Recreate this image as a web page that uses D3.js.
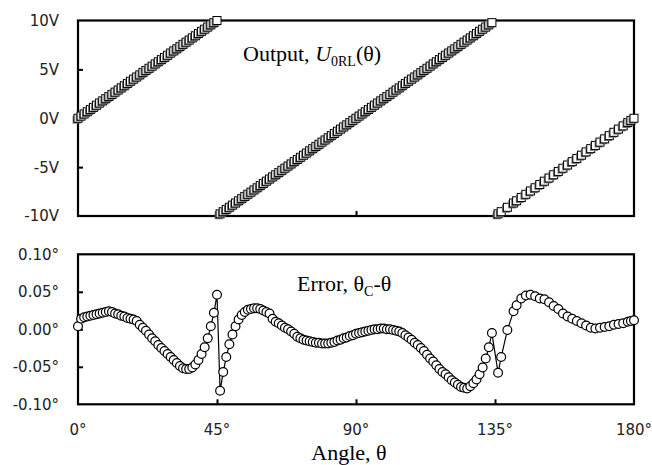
<!DOCTYPE html>
<html><head><meta charset="utf-8">
<script src="https://cdn.jsdelivr.net/npm/d3@7"></script>
<style>html,body{margin:0;padding:0;background:#fff;}svg{display:block;}</style>
</head><body>
<svg id="c" width="652" height="465"></svg>
<script>
// angle samples (degrees)
const theta = [0,1,2,3,4,5,6,7,8,9,10,11,12,13,14,15,16,17,18,19,20,21,22,23,24,25,26,27,28,29,30,31,32,33,34,35,36,37,38,39,40,41,42,43,44,45,
46,47,48,49,50,51,52,53,54,55,56,57,58,59,60,61,62,63,64,65,66,67,68,69,70,71,72,73,74,75,76,77,78,79,80,81,82,83,84,85,86,87,88,89,90,
91,92,93,94,95,96,97,98,99,100,101,102,103,104,105,106,107,108,109,110,111,112,113,114,115,116,117,118,119,120,121,122,123,124,125,126,127,128,129,130,131,132,133,134,
136,137,139,141,142,143.5,145,146.5,148,149.5,151,152.5,154,155.5,157,158.5,160,161.5,163,164.5,166,167.5,169,170.5,172,173.5,175,176.5,178,179,180];
// output voltage U0RL (V)
const output = [0,0.22,0.44,0.67,0.89,1.11,1.33,1.56,1.78,2.00,2.22,2.44,2.67,2.89,3.11,3.33,3.56,3.78,4.00,4.22,4.44,4.67,4.89,5.11,5.33,5.56,5.78,6.00,6.22,6.44,6.67,6.89,7.11,7.33,7.56,7.78,8.00,8.22,8.44,8.67,8.89,9.11,9.33,9.56,9.78,10.00,
-9.78,-9.56,-9.33,-9.11,-8.89,-8.67,-8.44,-8.22,-8.00,-7.78,-7.56,-7.33,-7.11,-6.89,-6.67,-6.44,-6.22,-6.00,-5.78,-5.56,-5.33,-5.11,-4.89,-4.67,-4.44,-4.22,-4.00,-3.78,-3.56,-3.33,-3.11,-2.89,-2.67,-2.44,-2.22,-2.00,-1.78,-1.56,-1.33,-1.11,-0.89,-0.67,-0.44,-0.22,0.00,
0.22,0.44,0.67,0.89,1.11,1.33,1.56,1.78,2.00,2.22,2.44,2.67,2.89,3.11,3.33,3.56,3.78,4.00,4.22,4.44,4.67,4.89,5.11,5.33,5.56,5.78,6.00,6.22,6.44,6.67,6.89,7.11,7.33,7.56,7.78,8.00,8.22,8.44,8.67,8.89,9.11,9.33,9.56,9.78,
-9.78,-9.56,-9.11,-8.67,-8.44,-8.11,-7.78,-7.44,-7.11,-6.78,-6.44,-6.11,-5.78,-5.44,-5.11,-4.78,-4.44,-4.11,-3.78,-3.44,-3.11,-2.78,-2.44,-2.11,-1.78,-1.44,-1.11,-0.78,-0.44,-0.22,0.00];
// angle error thetaC - theta (degrees)
const error = [0.004,0.014,0.016,0.017,0.018,0.019,0.020,0.021,0.022,0.023,0.024,0.023,0.021,0.020,0.018,0.017,0.015,0.014,0.013,0.011,0.006,0.002,-0.002,-0.007,-0.012,-0.016,-0.021,-0.025,-0.029,-0.033,-0.037,-0.041,-0.045,-0.049,-0.052,-0.053,-0.053,-0.051,-0.047,-0.041,-0.033,-0.024,-0.012,0.004,0.022,0.046,
-0.082,-0.057,-0.037,-0.020,-0.007,0.004,0.013,0.019,0.023,0.026,0.027,0.028,0.028,0.027,0.025,0.023,0.021,0.014,0.010,0.008,0.005,0.002,0.000,-0.003,-0.006,-0.010,-0.012,-0.014,-0.015,-0.016,-0.017,-0.018,-0.018,-0.019,-0.019,-0.019,-0.018,-0.017,-0.015,-0.014,-0.012,-0.011,-0.009,-0.008,-0.006,
-0.005,-0.004,-0.003,-0.002,-0.001,0.000,0.000,0.001,0.001,0.000,0.000,-0.001,-0.002,-0.003,-0.005,-0.008,-0.011,-0.014,-0.018,-0.021,-0.025,-0.029,-0.034,-0.039,-0.043,-0.048,-0.053,-0.057,-0.060,-0.064,-0.068,-0.071,-0.074,-0.077,-0.078,-0.079,-0.076,-0.072,-0.067,-0.060,-0.051,-0.039,-0.024,-0.005,
-0.058,-0.037,-0.001,0.024,0.032,0.041,0.045,0.046,0.044,0.041,0.040,0.036,0.031,0.027,0.021,0.017,0.014,0.011,0.008,0.005,0.002,0.001,0.002,0.003,0.004,0.006,0.007,0.008,0.010,0.011,0.012];

const topTicks = [10,5,0,-5,-10];
const topTickLabels = ["10V","5V","0V","-5V","-10V"];
const botTicks = [0.10,0.05,0.00,-0.05,-0.10];
const botTickLabels = ["0.10°","0.05°","0.00°","-0.05°","-0.10°"];
const xTicks = [0,45,90,135,180];
const xTickLabels = ["0°","45°","90°","135°","180°"];

const svg = d3.select("#c");
const L = 78, R = 634;
const x = d3.scaleLinear().domain([0,180]).range([L,R]);
const yT = d3.scaleLinear().domain([-10,10]).range([216,20.5]);
const yB = d3.scaleLinear().domain([-0.1,0.1]).range([404.3,254.3]);
const tickFont = "'DejaVu Sans', sans-serif";
const pts = theta.map((t,i)=>({t, u:output[i], e:error[i]}));

function panel(y, ticks, labels){
  const ay = svg.append("g").attr("transform",`translate(${L},0)`)
    .call(d3.axisLeft(y).tickValues(ticks.slice(1,-1)).tickSize(-5).tickFormat(""));
  ay.select(".domain").remove();
  ay.selectAll("line").attr("stroke","#000").attr("stroke-width",2);
  const ax = svg.append("g").attr("transform",`translate(0,${y.range()[0]})`)
    .call(d3.axisBottom(x).tickValues([45,90,135]).tickSize(-5).tickFormat(""));
  ax.select(".domain").remove();
  ax.selectAll("line").attr("stroke","#000").attr("stroke-width",2);
  svg.append("g").selectAll("text").data(ticks).join("text")
    .attr("x",59).attr("y",d=>y(d)).attr("dy","0.36em")
    .attr("text-anchor","end").attr("font-family",tickFont).attr("font-size",15)
    .attr("fill","#222").text((d,i)=>labels[i]);
  svg.append("rect").attr("x",L).attr("y",y.range()[1]).attr("width",R-L)
    .attr("height",y.range()[0]-y.range()[1]).attr("fill","none")
    .attr("stroke","#000").attr("stroke-width",2.2);
}
panel(yT, topTicks, topTickLabels);
panel(yB, botTicks, botTickLabels);

// top panel squares with grey shadow
const s = 8;
const gT = svg.append("g");
pts.forEach(p=>{
  const cx = x(p.t), cy = yT(p.u);
  gT.append("rect").attr("x",cx-s/2-1.4).attr("y",cy-s/2+1.4).attr("width",s).attr("height",s)
    .attr("fill","#707070").attr("stroke","none");
  gT.append("rect").attr("x",cx-s/2).attr("y",cy-s/2).attr("width",s).attr("height",s)
    .attr("fill","#fff").attr("stroke","#000").attr("stroke-width",1);
});

// bottom panel line + circles
svg.append("path").datum(pts)
  .attr("d", d3.line().x(d=>x(d.t)).y(d=>yB(d.e)))
  .attr("fill","none").attr("stroke","#000").attr("stroke-width",1.2);
svg.append("g").selectAll("circle").data(pts).join("circle")
  .attr("cx",d=>x(d.t)).attr("cy",d=>yB(d.e)).attr("r",4.4)
  .attr("fill","#fff").attr("stroke","#000").attr("stroke-width",1.2);

// x tick labels
svg.append("g").selectAll("text").data(xTicks).join("text")
  .attr("x",d=>x(d)).attr("y",435).attr("text-anchor","middle")
  .attr("font-family",tickFont).attr("font-size",15).attr("fill","#222")
  .text((d,i)=>xTickLabels[i]);

// annotations
const serif = "'Liberation Serif','Times New Roman',serif";
const t1 = svg.append("text").attr("x",243).attr("y",61).attr("font-family",serif).attr("font-size",22).attr("fill","#000");
t1.append("tspan").text("Output, ");
t1.append("tspan").attr("font-style","italic").text("U");
t1.append("tspan").attr("font-size",14).attr("dy",5).text("0RL");
t1.append("tspan").attr("dy",-5).text("(θ)");

const t2 = svg.append("text").attr("x",297).attr("y",291).attr("font-family",serif).attr("font-size",22).attr("fill","#000");
t2.append("tspan").text("Error, θ");
t2.append("tspan").attr("font-size",14).attr("dy",5).text("C");
t2.append("tspan").attr("dy",-5).text("-θ");

svg.append("text").attr("x",349).attr("y",459.5).attr("text-anchor","middle")
  .attr("font-family",serif).attr("font-size",22).attr("fill","#000").text("Angle, θ");
</script>
</body></html>
